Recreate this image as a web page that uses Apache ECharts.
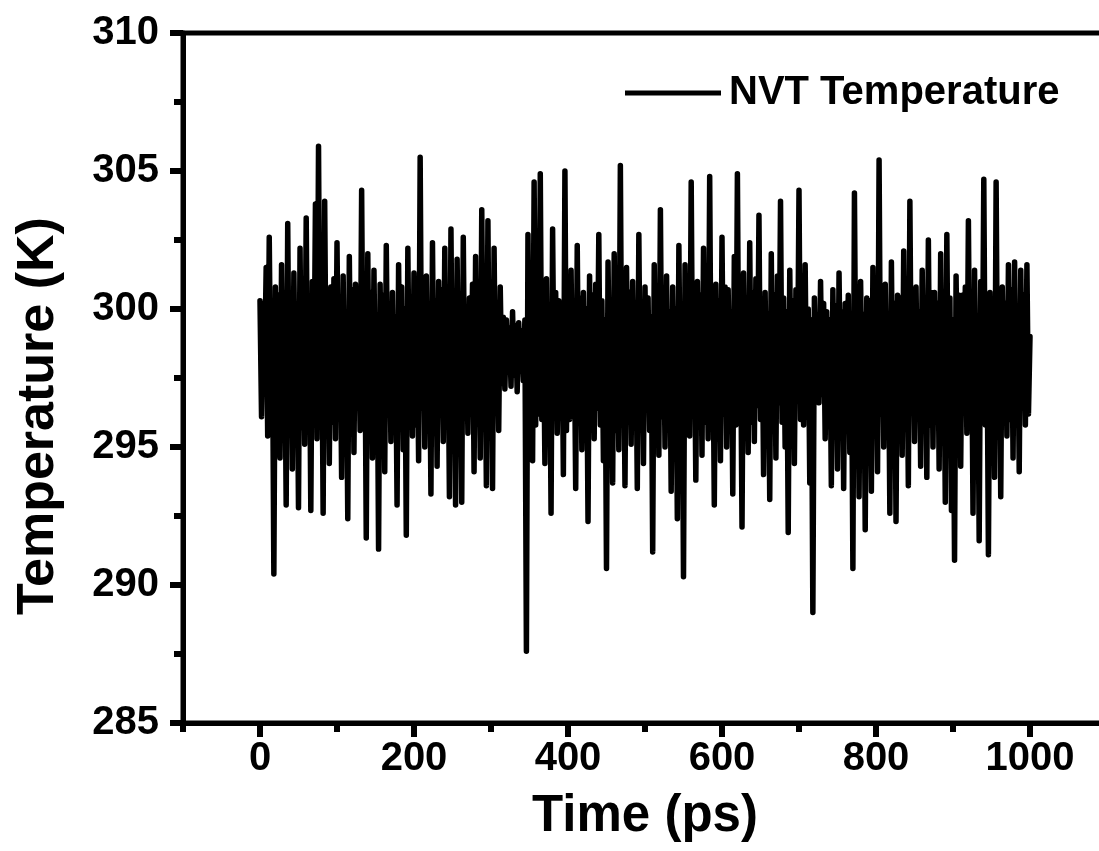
<!DOCTYPE html>
<html>
<head>
<meta charset="utf-8">
<script src="https://cdn.jsdelivr.net/npm/echarts@6/dist/echarts.min.js"></script>
<style>
html,body{margin:0;padding:0;background:#fff;}
#chart{width:1099px;height:851px;}
</style>
</head>
<body>
<div id="chart"></div>
<script>
// Sampling: every 2 ps from 0 to 1000 ps
const timeStart = 0;
const timeStep = 2;
// Temperature (K), one row per 40 ps
const temperature = [
  300.3, 296.1, 300.2, 297.8, 301.5, 295.4, 302.6, 296.8, 299.9, 290.4, 300.8, 295.0, 300.5, 294.6, 301.6, 296.3, 299.7, 292.9, 303.1, 295.8,
  300.6, 294.2, 301.3, 296.4, 299.8, 292.8, 302.2, 295.7, 300.9, 295.1, 303.3, 296.0, 300.1, 292.7, 301.0, 296.6, 303.8, 295.3, 305.9, 296.2,
  300.4, 292.6, 303.9, 296.5, 299.6, 294.4, 300.8, 295.9, 301.1, 295.3, 302.4, 296.7, 300.0, 293.9, 301.2, 295.6, 299.5, 292.4, 301.9, 296.2,
  300.7, 294.8, 300.9, 296.9, 299.9, 295.6, 304.3, 296.1, 300.3, 291.7, 302.0, 295.5, 300.6, 294.6, 301.4, 296.4, 299.8, 291.3, 300.9, 295.9,
  300.5, 294.1, 302.3, 296.6, 300.2, 295.2, 300.6, 296.0, 299.7, 292.9, 301.6, 295.7, 300.8, 294.9, 300.0, 291.8, 302.2, 296.3, 300.4, 295.4,
  301.3, 295.8, 300.1, 294.5, 305.5, 296.4, 300.6, 295.0, 301.2, 296.2, 299.8, 293.3, 302.4, 295.9, 300.3, 294.3, 301.0, 296.5, 300.7, 295.2,
  302.2, 296.0, 299.9, 293.2, 302.9, 295.7, 300.2, 292.9, 301.8, 296.3, 300.5, 293.0, 302.6, 296.1, 299.8, 295.5, 300.4, 296.8, 300.9, 294.1,
  301.9, 295.9, 300.3, 294.6, 303.6, 296.2, 300.0, 293.6, 303.2, 295.8, 300.6, 293.5, 302.2, 296.4, 300.1, 295.6, 300.8, 297.3, 299.7, 297.1,
  299.6, 297.9, 299.3, 297.2, 299.9, 297.6, 299.4, 297.0, 299.5, 297.8, 299.2, 297.4, 299.6, 287.6, 302.7, 296.1, 300.4, 294.5, 304.6, 295.8,
  300.9, 296.2, 304.9, 296.0, 300.2, 294.4, 301.1, 295.7, 299.9, 292.6, 302.9, 296.5, 300.6, 295.5, 300.3, 296.9, 300.1, 294.0, 305.0, 295.6,
  300.8, 296.0, 301.4, 296.3, 299.7, 293.5, 302.3, 295.9, 300.4, 294.9, 300.6, 296.6, 300.0, 292.3, 301.2, 296.1, 300.5, 295.3, 300.9, 296.4,
  302.7, 295.8, 300.3, 294.5, 299.6, 290.6, 301.7, 296.2, 300.1, 293.7, 302.0, 295.6, 300.7, 294.9, 305.2, 296.0, 299.9, 293.6, 301.5, 296.3,
  300.6, 295.1, 301.0, 296.5, 299.8, 293.5, 302.7, 296.0, 300.2, 294.4, 300.8, 296.7, 300.4, 295.6, 299.7, 291.2, 301.6, 295.9, 300.5, 294.7,
  303.6, 296.1, 300.3, 295.0, 301.2, 296.4, 299.9, 293.4, 300.8, 296.2, 300.0, 292.4, 302.3, 295.7, 299.6, 290.3, 301.6, 296.0, 300.7, 295.4,
  304.6, 296.3, 300.2, 293.8, 301.0, 296.6, 300.5, 294.7, 302.2, 295.9, 300.6, 295.3, 304.8, 296.0, 299.8, 292.9, 300.9, 296.5, 300.3, 294.5,
  302.6, 296.2, 300.8, 295.0, 300.7, 296.7, 299.9, 293.3, 301.9, 295.8, 304.9, 296.1, 299.7, 292.1, 301.3, 296.4, 300.4, 294.8, 302.4, 295.9,
  300.6, 295.2, 301.1, 296.5, 303.4, 296.0, 300.1, 294.0, 300.6, 296.3, 299.8, 293.1, 302.0, 295.7, 300.5, 294.6, 301.2, 296.6, 303.9, 295.9,
  300.4, 295.0, 299.9, 291.9, 301.4, 296.2, 300.3, 294.4, 300.7, 296.8, 304.3, 296.0, 300.9, 295.8, 301.6, 296.1, 300.0, 293.7, 299.6, 289.0,
  300.4, 297.0, 299.8, 296.6, 301.0, 296.9, 300.2, 295.3, 299.9, 296.4, 299.6, 293.6, 300.7, 296.2, 300.1, 294.2, 301.3, 296.5, 299.9, 293.5,
  300.2, 296.3, 300.5, 294.8, 299.7, 290.6, 304.2, 296.0, 300.2, 293.2, 301.0, 296.4, 299.8, 292.0, 300.4, 296.6, 300.3, 293.4, 301.5, 295.9,
  300.6, 294.1, 305.4, 296.2, 300.0, 295.0, 300.9, 296.5, 299.7, 292.6, 301.7, 295.8, 300.2, 292.3, 300.5, 296.7, 300.4, 294.7, 302.1, 296.0,
  300.1, 293.6, 303.9, 296.4, 300.7, 295.2, 300.8, 296.1, 299.9, 294.3, 301.4, 296.5, 300.3, 293.9, 302.5, 295.8, 300.6, 295.0, 300.6, 296.7,
  300.2, 294.2, 302.0, 296.0, 299.8, 293.0, 302.7, 295.7, 300.4, 292.7, 299.6, 290.9, 301.2, 296.3, 300.5, 294.3, 300.5, 296.8, 300.8, 295.5,
  303.2, 295.9, 300.0, 292.6, 301.4, 296.1, 299.7, 291.6, 301.0, 296.4, 304.7, 295.8, 299.9, 291.1, 300.6, 296.3, 300.3, 293.9, 304.6, 296.0,
  300.4, 293.2, 300.8, 296.6, 300.2, 295.4, 301.6, 296.0, 300.7, 294.6, 301.7, 295.9, 300.1, 294.1, 301.4, 296.5, 300.5, 295.8, 301.6, 296.2,
  299.0
];
const xMajorTicks = [0, 200, 400, 600, 800, 1000];
const xMinorTicks = [-100, 100, 300, 500, 700, 900, 1100];
const seriesName = 'NVT Temperature';
const xTitle = 'Time (ps)';
const yTitle = 'Temperature (K)';

const seriesData = temperature.map((v, i) => [timeStart + i * timeStep, v]);

const FONT = '"Liberation Sans", Arial, Helvetica, sans-serif';
const chart = echarts.init(document.getElementById('chart'), null, {renderer: 'canvas'});
chart.setOption({
  animation: false,
  backgroundColor: '#fff',
  grid: {
    left: 183, top: 33, right: -8, bottom: 128,
    outerBoundsMode: 'none',
    show: true, borderColor: '#000', borderWidth: 5, backgroundColor: 'transparent'
  },
  legend: {
    left: 620, top: 68,
    itemWidth: 96, itemHeight: 14,
    icon: 'path://M0,0 L96,0 L96,5 L0,5 Z',
    itemStyle: {color: '#000'},
    textStyle: {fontFamily: FONT, fontWeight: 'bold', fontSize: 40, color: '#000', padding: [0, 0, 0, 3]},
    data: [seriesName]
  },
  xAxis: [{
    type: 'value', min: -100, max: 1100,
    position: 'bottom',
    name: xTitle, nameLocation: 'middle', nameGap: 68,
    nameTextStyle: {fontFamily: FONT, fontWeight: 'bold', fontSize: 51, color: '#000'},
    splitLine: {show: false},
    axisLine: {show: true, onZero: false, lineStyle: {color: '#000', width: 5}},
    axisTick: {show: true, customValues: xMajorTicks, length: 14, lineStyle: {color: '#000', width: 6}},
    axisLabel: {customValues: xMajorTicks, margin: 16, formatter: (v) => String(v),
      fontFamily: FONT, fontWeight: 'bold', fontSize: 40, color: '#000'}
  }, {
    type: 'value', min: -100, max: 1100,
    position: 'bottom', offset: 0,
    splitLine: {show: false},
    axisLine: {show: false, onZero: false},
    axisTick: {show: true, customValues: xMinorTicks, length: 9, lineStyle: {color: '#000', width: 6}},
    axisLabel: {show: false}
  }],
  yAxis: {
    type: 'value', min: 285, max: 310, interval: 5,
    name: yTitle, nameLocation: 'middle', nameGap: 118,
    nameTextStyle: {fontFamily: FONT, fontWeight: 'bold', fontSize: 52, color: '#000', padding: [0, 76, 0, 0]},
    splitLine: {show: false},
    axisLine: {show: true, onZero: false, lineStyle: {color: '#000', width: 5}},
    axisTick: {show: true, length: 13, lineStyle: {color: '#000', width: 6}},
    minorTick: {show: true, splitNumber: 2, length: 9, lineStyle: {color: '#000', width: 6}},
    axisLabel: {margin: 24, fontFamily: FONT, fontWeight: 'bold', fontSize: 40, color: '#000'}
  },
  series: [{
    name: seriesName,
    type: 'line',
    xAxisIndex: 0, yAxisIndex: 0,
    data: seriesData,
    symbol: 'none', showSymbol: false,
    sampling: null,
    lineStyle: {color: '#000', width: 5.5, cap: 'round', join: 'round'},
    itemStyle: {color: '#000'}
  }]
});
</script>
</body>
</html>
